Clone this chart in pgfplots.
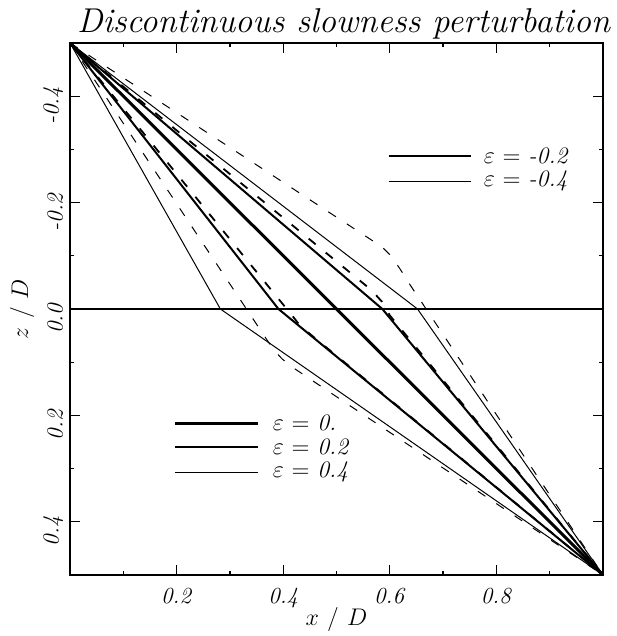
\documentclass[border=0pt]{standalone}
\usepackage{pgfplots}
\pgfplotsset{compat=1.18}
\begin{document}
\begin{tikzpicture}
\begin{axis}[
  width=266pt, height=265.5pt, scale only axis,
  xmin=0, xmax=1, ymin=-0.5, ymax=0.5, y dir=reverse,
  axis line style={line width=1pt},
  every tick/.style={line width=0.6pt, black},
  major tick length=5pt, minor tick length=2pt,
  tick align=inside,
  xtick={0.2,0.4,0.6,0.8},
  xticklabels={\textit{0.2},\textit{0.4},\textit{0.6},\textit{0.8}},
  minor xtick={0.1,0.3,0.5,0.7,0.9},
  ytick={-0.4,-0.2,0,0.2,0.4},
  yticklabels={\textit{-0.4},\textit{-0.2},\textit{0.0},\textit{0.2},\textit{0.4}},
  minor ytick={-0.3,-0.1,0.1,0.3},
  ticklabel style={font=\fontsize{11.5}{13}\selectfont},
  xticklabel style={yshift=-3pt},
  yticklabel style={rotate=90, anchor=south, xshift=-4.7pt},
  clip=false,
]
% horizontal interface
\addplot[black, line width=1.3pt] coordinates {(0,0) (1,0)};
% exact rays
\addplot[black, line width=1.5pt] coordinates {(0,-0.5) (1,0.5)};
\addplot[black, line width=1.0pt] coordinates {(0,-0.5) (0.391,0) (1,0.5)};
\addplot[black, line width=0.5pt] coordinates {(0,-0.5) (0.282,0) (1,0.5)};
\addplot[black, line width=1.0pt] coordinates {(0,-0.5) (0.586,0) (1,0.5)};
\addplot[black, line width=0.5pt] coordinates {(0,-0.5) (0.652,0) (1,0.5)};
% approximate rays (dashed)
\addplot[black, line width=0.5pt, dash pattern=on 4.5pt off 6.5pt] coordinates {(0,-0.5) (0.372,0.062) (0.385,0.080) (0.398,0.094) (0.415,0.108) (1,0.5)};
\addplot[black, line width=0.9pt, dash pattern=on 4.5pt off 6.5pt] coordinates {(0,-0.5) (0.405,-0.002) (0.418,0.014) (0.432,0.032) (1,0.5)};
\addplot[black, line width=0.9pt, dash pattern=on 4.5pt off 6.5pt] coordinates {(0,-0.5) (0.565,-0.036) (0.585,-0.014) (0.600,0.012) (1,0.5)};
\addplot[black, line width=0.5pt, dash pattern=on 4.5pt off 6.5pt] coordinates {(0,-0.5) (0.585,-0.117) (0.604,-0.098) (0.620,-0.074) (0.635,-0.050) (1,0.5)};
% legends
\draw[line width=1.0pt] (axis cs:0.598,-0.287) -- (axis cs:0.752,-0.287);
\draw[line width=0.5pt] (axis cs:0.598,-0.240) -- (axis cs:0.752,-0.240);
\node[anchor=west, inner sep=0pt, font=\fontsize{11.8}{13}\selectfont] at (axis cs:0.776,-0.287) {$\varepsilon$ = \textit{-0.2}};
\node[anchor=west, inner sep=0pt, font=\fontsize{11.8}{13}\selectfont] at (axis cs:0.776,-0.240) {$\varepsilon$ = \textit{-0.4}};
\draw[line width=1.5pt] (axis cs:0.197,0.215) -- (axis cs:0.353,0.215);
\draw[line width=1.0pt] (axis cs:0.197,0.260) -- (axis cs:0.353,0.260);
\draw[line width=0.5pt] (axis cs:0.197,0.307) -- (axis cs:0.353,0.307);
\node[anchor=west, inner sep=0pt, font=\fontsize{11.8}{13}\selectfont] at (axis cs:0.380,0.215) {$\varepsilon$ = \textit{0.}};
\node[anchor=west, inner sep=0pt, font=\fontsize{11.8}{13}\selectfont] at (axis cs:0.380,0.260) {$\varepsilon$ = \textit{0.2}};
\node[anchor=west, inner sep=0pt, font=\fontsize{11.8}{13}\selectfont] at (axis cs:0.380,0.307) {$\varepsilon$ = \textit{0.4}};
\end{axis}
\node[anchor=base, xshift=3.5pt, yshift=5.5pt, inner sep=0pt, font=\fontsize{17.2}{20}\selectfont\itshape] at (current axis.north) {Discontinuous slowness perturbation};
\node[anchor=base, yshift=-25.5pt, inner sep=0pt, font=\fontsize{12.5}{14}\selectfont] at (current axis.south) {$x\ /\ D$};
\node[anchor=base, rotate=90, inner sep=0pt, font=\fontsize{12.5}{14}\selectfont] at ([xshift=-21pt]current axis.west) {$z\ /\ D$};
\pgfresetboundingbox
\path ([shift={(-35pt,-30.5pt)}]current axis.south west) rectangle ([shift={(7pt,21.5pt)}]current axis.north east);
\end{tikzpicture}
\end{document}
